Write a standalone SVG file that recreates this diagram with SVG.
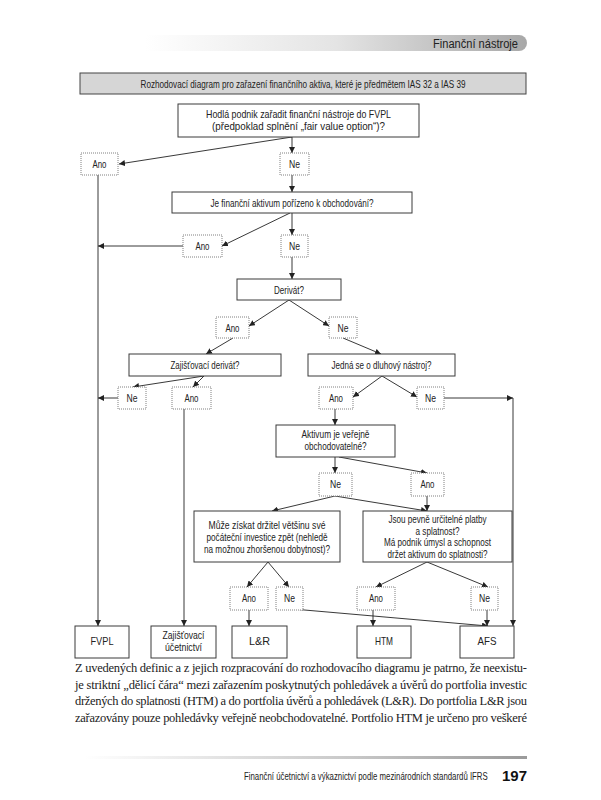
<svg xmlns="http://www.w3.org/2000/svg" width="601" height="800" viewBox="0 0 601 800">
<defs>
<style>
.box{fill:#fff;stroke:#3a3a3a;stroke-width:1}
.dot{fill:#fff;stroke:#808080;stroke-width:1;stroke-dasharray:1 1}
.t{font-family:"Liberation Sans",Arial,sans-serif;font-size:10.5px;fill:#222;text-anchor:middle}
.c{stroke:#222;stroke-width:0.9;fill:none;marker-end:url(#ah)}
.p{font-family:"Liberation Serif","Times New Roman",serif;font-size:12.5px;fill:#222}
</style>
<marker id="ah" markerUnits="userSpaceOnUse" markerWidth="6" markerHeight="6" refX="6" refY="3" orient="auto">
<path d="M0,0 L6,3 L0,6 z" fill="#222"/>
</marker>
<linearGradient id="hg" x1="0" y1="0" x2="1" y2="0">
<stop offset="0" stop-color="#ffffff"/>
<stop offset="0.5" stop-color="#e4e4e4"/>
<stop offset="1" stop-color="#a8a8a8"/>
</linearGradient>
<linearGradient id="fg" x1="0" y1="0" x2="1" y2="0">
<stop offset="0" stop-color="#ffffff"/>
<stop offset="0.6" stop-color="#c8c8c8"/>
<stop offset="1" stop-color="#9a9a9a"/>
</linearGradient>
</defs>
<rect width="601" height="800" fill="#fff"/>

<g id="header">
<path d="M145,35 H519 A8,8 0 0 1 519,51 H145 Z" fill="url(#hg)"/>
<text x="518" y="47.5" style="font-family:'Liberation Sans',Arial,sans-serif;font-size:12px;fill:#222;text-anchor:end" textLength="85" lengthAdjust="spacingAndGlyphs">Finanční nástroje</text>
</g>

<g id="title">
<rect x="80" y="73" width="446" height="21" fill="#d6d6d6" stroke="#444" stroke-width="1"/>
<text class="t" x="303" y="87.5" textLength="325" lengthAdjust="spacingAndGlyphs">Rozhodovací diagram pro zařazení finančního aktiva, které je předmětem IAS 32 a IAS 39</text>
</g>

<g id="connectors">
<line class="c" x1="292" y1="137" x2="292" y2="153"/>
<line class="c" x1="292" y1="137" x2="119" y2="164"/>
<line class="c" x1="98" y1="175" x2="98" y2="626"/>
<line class="c" x1="292" y1="175" x2="292" y2="192"/>
<line class="c" x1="292" y1="213" x2="292" y2="235"/>
<line class="c" x1="290" y1="213" x2="222" y2="246"/>
<line class="c" x1="183" y1="246" x2="98" y2="246"/>
<line class="c" x1="292" y1="257" x2="292" y2="279"/>
<line class="c" x1="289" y1="300" x2="249" y2="326"/>
<line class="c" x1="289" y1="300" x2="329" y2="326"/>
<line class="c" x1="233" y1="338" x2="206" y2="354"/>
<line class="c" x1="343" y1="338" x2="381" y2="354"/>
<line class="c" x1="204" y1="376" x2="133" y2="387"/>
<line class="c" x1="204" y1="376" x2="193" y2="387"/>
<line class="c" x1="118" y1="398" x2="98" y2="398"/>
<line class="c" x1="184" y1="409" x2="184" y2="626"/>
<line class="c" x1="382" y1="376" x2="353" y2="397"/>
<line class="c" x1="382" y1="376" x2="417" y2="397"/>
<line class="c" x1="444" y1="398" x2="513" y2="398"/>
<line class="c" x1="513" y1="398" x2="513" y2="626"/>
<line class="c" x1="335" y1="409" x2="335" y2="425"/>
<line class="c" x1="335" y1="457" x2="335" y2="473"/>
<line class="c" x1="339" y1="457" x2="427" y2="473"/>
<line class="c" x1="335" y1="496" x2="272" y2="511"/>
<line class="c" x1="335" y1="496" x2="427" y2="511"/>
<line class="c" x1="427" y1="496" x2="427" y2="511"/>
<line class="c" x1="268" y1="562" x2="247" y2="587"/>
<line class="c" x1="268" y1="562" x2="289" y2="587"/>
<line class="c" x1="427" y1="562" x2="376" y2="587"/>
<line class="c" x1="427" y1="562" x2="488" y2="587"/>
<line class="c" x1="249" y1="610" x2="249" y2="626"/>
<line class="c" x1="293" y1="609" x2="488" y2="626"/>
<line class="c" x1="373" y1="610" x2="373" y2="626"/>
<line class="c" x1="487" y1="610" x2="487" y2="626"/>
</g>

<g id="q1">
<rect class="box" x="178" y="104" width="241" height="33"/>
<text class="t" x="298.5" y="118" textLength="185" lengthAdjust="spacingAndGlyphs">Hodlá podnik zařadit finanční nástroje do FVPL</text>
<text class="t" x="298.5" y="130" textLength="173" lengthAdjust="spacingAndGlyphs">(předpoklad splnění „fair value option“)?</text>
</g>
<g id="ano1"><rect class="dot" x="81" y="153" width="37" height="22"/><text class="t" x="99.5" y="168" textLength="14" lengthAdjust="spacingAndGlyphs">Ano</text></g>
<g id="ne1"><rect class="dot" x="280" y="153" width="29" height="22"/><text class="t" x="294.5" y="168" textLength="11" lengthAdjust="spacingAndGlyphs">Ne</text></g>

<g id="q2">
<rect class="box" x="172" y="192" width="240" height="21"/>
<text class="t" x="292" y="206.5" textLength="163" lengthAdjust="spacingAndGlyphs">Je finanční aktivum pořízeno k obchodování?</text>
</g>
<g id="ano2"><rect class="dot" x="183" y="235" width="39" height="22"/><text class="t" x="202.5" y="250" textLength="14" lengthAdjust="spacingAndGlyphs">Ano</text></g>
<g id="ne2"><rect class="dot" x="281" y="235" width="27" height="22"/><text class="t" x="294.5" y="250" textLength="11" lengthAdjust="spacingAndGlyphs">Ne</text></g>

<g id="q3">
<rect class="box" x="237" y="279" width="104" height="21"/>
<text class="t" x="289" y="293.5" textLength="30" lengthAdjust="spacingAndGlyphs">Derivát?</text>
</g>
<g id="ano3"><rect class="dot" x="216" y="317" width="33" height="21"/><text class="t" x="232.5" y="331.5" textLength="14" lengthAdjust="spacingAndGlyphs">Ano</text></g>
<g id="ne3"><rect class="dot" x="329" y="317" width="28" height="21"/><text class="t" x="343" y="331.5" textLength="11" lengthAdjust="spacingAndGlyphs">Ne</text></g>

<g id="q4">
<rect class="box" x="129" y="354" width="152" height="22"/>
<text class="t" x="205" y="369" textLength="69" lengthAdjust="spacingAndGlyphs">Zajišťovací derivát?</text>
</g>
<g id="q5">
<rect class="box" x="308" y="354" width="147" height="22"/>
<text class="t" x="381.5" y="369" textLength="100" lengthAdjust="spacingAndGlyphs">Jedná se o dluhový nástroj?</text>
</g>
<g id="ne4"><rect class="dot" x="118" y="387" width="28" height="22"/><text class="t" x="132" y="402" textLength="11" lengthAdjust="spacingAndGlyphs">Ne</text></g>
<g id="ano4"><rect class="dot" x="172" y="387" width="39" height="22"/><text class="t" x="191.5" y="402" textLength="14" lengthAdjust="spacingAndGlyphs">Ano</text></g>
<g id="ano5"><rect class="dot" x="319" y="387" width="34" height="22"/><text class="t" x="336" y="402" textLength="14" lengthAdjust="spacingAndGlyphs">Ano</text></g>
<g id="ne5"><rect class="dot" x="417" y="387" width="27" height="22"/><text class="t" x="430.5" y="402" textLength="11" lengthAdjust="spacingAndGlyphs">Ne</text></g>

<g id="q6">
<rect class="box" x="276" y="425" width="119" height="32"/>
<text class="t" x="335.5" y="438" textLength="68" lengthAdjust="spacingAndGlyphs">Aktivum je veřejně</text>
<text class="t" x="335.5" y="450" textLength="62" lengthAdjust="spacingAndGlyphs">obchodovatelné?</text>
</g>
<g id="ne6"><rect class="dot" x="319" y="473" width="33" height="23"/><text class="t" x="335.5" y="488" textLength="11" lengthAdjust="spacingAndGlyphs">Ne</text></g>
<g id="ano6"><rect class="dot" x="411" y="473" width="33" height="23"/><text class="t" x="427.5" y="488" textLength="14" lengthAdjust="spacingAndGlyphs">Ano</text></g>

<g id="q7">
<rect class="box" x="194" y="511" width="146" height="51"/>
<text class="t" x="267" y="529" textLength="117" lengthAdjust="spacingAndGlyphs">Může získat držitel většinu své</text>
<text class="t" x="267" y="541" textLength="121" lengthAdjust="spacingAndGlyphs">počáteční investice zpět (nehledě</text>
<text class="t" x="267" y="553" textLength="126" lengthAdjust="spacingAndGlyphs">na možnou zhoršenou dobytnost)?</text>
</g>
<g id="q8">
<rect class="box" x="363" y="511" width="149" height="51"/>
<text class="t" x="437.5" y="523" textLength="98" lengthAdjust="spacingAndGlyphs">Jsou pevně určitelné platby</text>
<text class="t" x="437.5" y="534.5" textLength="44" lengthAdjust="spacingAndGlyphs">a splatnost?</text>
<text class="t" x="437.5" y="546" textLength="107" lengthAdjust="spacingAndGlyphs">Má podnik úmysl a schopnost</text>
<text class="t" x="437.5" y="557.5" textLength="100" lengthAdjust="spacingAndGlyphs">držet aktivum do splatnosti?</text>
</g>
<g id="ano7"><rect class="dot" x="230" y="587" width="38" height="23"/><text class="t" x="249" y="602" textLength="14" lengthAdjust="spacingAndGlyphs">Ano</text></g>
<g id="ne7"><rect class="dot" x="276" y="587" width="27" height="23"/><text class="t" x="289.5" y="602" textLength="11" lengthAdjust="spacingAndGlyphs">Ne</text></g>
<g id="ano8"><rect class="dot" x="357" y="587" width="38" height="23"/><text class="t" x="376" y="602" textLength="14" lengthAdjust="spacingAndGlyphs">Ano</text></g>
<g id="ne8"><rect class="dot" x="471" y="587" width="27" height="23"/><text class="t" x="484.5" y="602" textLength="11" lengthAdjust="spacingAndGlyphs">Ne</text></g>

<g id="fvpl"><rect class="box" x="75" y="626" width="54" height="32"/><text class="t" x="102" y="645" textLength="23" lengthAdjust="spacingAndGlyphs">FVPL</text></g>
<g id="zaj"><rect class="box" x="151" y="626" width="65" height="32"/><text class="t" x="183.5" y="639" textLength="42" lengthAdjust="spacingAndGlyphs">Zajišťovací</text><text class="t" x="183.5" y="651" textLength="37" lengthAdjust="spacingAndGlyphs">účetnictví</text></g>
<g id="lr"><rect class="box" x="232" y="626" width="55" height="32"/><text class="t" x="259.5" y="645" textLength="21" lengthAdjust="spacingAndGlyphs">L&amp;R</text></g>
<g id="htm"><rect class="box" x="357" y="626" width="54" height="32"/><text class="t" x="384" y="645" textLength="18" lengthAdjust="spacingAndGlyphs">HTM</text></g>
<g id="afs"><rect class="box" x="460" y="626" width="54" height="32"/><text class="t" x="487" y="645" textLength="19" lengthAdjust="spacingAndGlyphs">AFS</text></g>

<g id="paragraph">
<text class="p" x="75" y="672" textLength="452" lengthAdjust="spacing">Z uvedených definic a z jejich rozpracování do rozhodovacího diagramu je patrno, že neexistu-</text>
<text class="p" x="75" y="688.5" textLength="452" lengthAdjust="spacing">je striktní „dělicí čára“ mezi zařazením poskytnutých pohledávek a úvěrů do portfolia investic</text>
<text class="p" x="75" y="705" textLength="452" lengthAdjust="spacing">držených do splatnosti (HTM) a do portfolia úvěrů a pohledávek (L&amp;R). Do portfolia L&amp;R jsou</text>
<text class="p" x="75" y="721.5" textLength="452" lengthAdjust="spacing">zařazovány pouze pohledávky veřejně neobchodovatelné. Portfolio HTM je určeno pro veškeré</text>
</g>

<g id="footer">
<rect x="85" y="756" width="442" height="3" fill="url(#fg)"/>
<text transform="translate(244,780) scale(0.745,1)" x="0" y="0" style="font-family:'Liberation Sans',Arial,sans-serif;font-size:10.5px;fill:#222">Finanční účetnictví a výkaznictví podle mezinárodních standardů IFRS</text>
<text x="502" y="781" style="font-family:'Liberation Sans',Arial,sans-serif;font-size:15px;font-weight:bold;fill:#111">197</text>
</g>
</svg>
